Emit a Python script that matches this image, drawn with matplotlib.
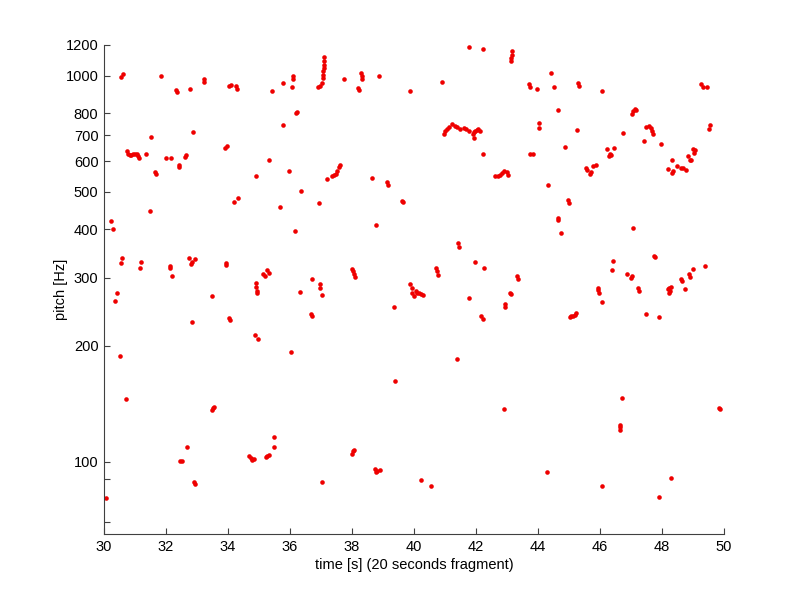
import matplotlib
matplotlib.use("Agg")
import matplotlib.pyplot as plt
from matplotlib.ticker import NullLocator

plt.rcParams['font.family'] = ['Liberation Sans', 'DejaVu Sans']

# pitch track (time in s, pitch in Hz)
time_s = [
    # 30 - 37 s, upper band
    30.56, 30.60, 31.83, 32.31, 32.35, 32.79, 33.22, 33.24, 34.02, 34.11, 34.27, 34.28,
    35.43, 35.76, 36.08, 36.09, 36.10, 36.19, 36.21, 35.79, 32.88, 31.50,
    30.73, 30.77, 30.83, 30.88, 30.93, 31.00, 31.06, 31.09, 31.13,
    31.36, 32.00, 32.17, 32.41, 32.43, 32.60, 32.65, 31.66, 31.68, 31.49, 30.23, 30.29,
    33.91, 33.97, 34.20, 34.31, 34.90, 35.33, 35.97, 35.68, 36.35, 36.16,
    # 30 - 37 s, lower band
    30.59, 30.55, 31.18, 31.15, 32.13, 32.13, 32.18, 32.73, 32.81, 32.84, 32.92, 33.94, 33.94,
    30.42, 30.34, 33.49, 34.90, 34.90, 34.95, 34.95, 35.14, 35.20, 35.27, 35.33, 36.32,
    32.83, 34.04, 34.07, 34.87, 34.98, 36.03, 30.51, 30.70, 33.49, 33.53, 33.56,
    35.49, 35.49, 32.68, 32.46, 32.50, 34.68, 34.74, 34.79, 34.85, 35.22, 35.27, 35.31,
    32.89, 32.92, 30.05,
    # 37 - 43 s
    37.10, 37.10, 37.09, 37.09, 37.08, 37.07, 37.06, 37.04, 36.96, 36.90,
    37.75, 38.28, 38.31, 38.33, 38.20, 38.24, 38.87, 39.88, 40.90, 41.78, 42.24,
    40.96, 40.99, 41.06, 41.14, 41.22, 41.31, 41.38, 41.49, 41.60, 41.67, 41.76,
    41.89, 41.92, 41.97, 42.03, 42.08, 42.13, 41.95, 42.21,
    42.62, 42.72, 42.78, 42.85, 42.91, 42.99, 43.02,
    37.60, 37.58, 37.52, 37.47, 37.42, 37.36, 37.20, 38.63, 39.14, 39.16, 39.61, 39.64,
    36.94, 38.76, 41.41, 41.46, 41.97, 42.25, 36.72, 36.97, 36.97, 37.02,
    38.00, 38.03, 38.06, 38.09, 40.71, 40.74, 40.79,
    36.67, 36.70, 39.36, 39.88, 39.92, 39.94, 39.99, 40.05, 40.10, 40.15, 40.21, 40.28,
    41.76, 42.17, 42.21, 42.94, 42.94, 41.40, 39.38, 42.91,
    38.00, 38.04, 38.07, 38.74, 38.78, 38.81, 38.90, 37.02, 40.24, 40.54,
    # 43 - 50 s
    43.15, 43.17, 43.13, 43.12, 44.41, 43.72, 43.74, 43.98, 44.51, 45.30, 45.32, 46.05,
    49.26, 49.31, 49.45, 44.65, 44.03, 44.02, 45.26, 46.74, 47.03, 47.06, 47.12, 47.16,
    47.42, 47.49, 47.57, 47.63, 47.68, 47.71, 47.97, 49.53, 49.56,
    48.99, 49.07, 49.03, 48.84, 48.89, 48.92,
    48.33, 48.19, 48.32, 48.49, 48.60, 48.68, 48.78, 48.35,
    46.21, 46.45, 46.31, 46.28, 46.35,
    45.54, 45.59, 45.76, 45.86, 45.70, 45.67,
    44.86, 43.74, 43.83, 44.33, 44.97, 44.99, 44.64, 44.66, 44.73, 47.06,
    47.74, 47.76, 46.42, 46.40, 46.86, 47.01, 47.03, 43.31, 43.34, 48.60, 48.64,
    48.87, 48.89, 49.00, 49.38,
    43.10, 43.13, 45.03, 45.08, 45.13, 45.19, 45.24, 45.92, 45.94, 45.97, 46.08,
    47.23, 47.25, 47.49, 47.91, 48.19, 48.22, 48.25, 48.30, 48.22, 48.73,
    46.71, 46.64, 46.65, 46.65, 49.85, 49.88, 44.30, 46.07, 47.90, 48.28,
]

pitch_hz = [
    990, 1010, 1000, 920, 908, 925, 980, 960, 937, 947, 942, 925,
    914, 958, 936, 980, 1000, 800, 805, 746, 716, 692,
    636, 627, 622, 622, 625, 625, 627, 620, 612,
    627, 612, 612, 588, 579, 614, 622, 563, 556, 445, 419, 400,
    649, 657, 471, 482, 550, 605, 566, 456, 502, 397,
    336, 327, 330, 317, 321, 317, 303, 336, 325, 329, 334, 328, 323,
    273, 261, 269, 290, 284, 276, 273, 306, 303, 313, 309, 275,
    230, 236, 233, 213, 208, 192, 188, 145, 136, 138, 139,
    116, 109.5, 109.5, 100.7, 100.7, 103.7, 102.3, 101.1, 101.5, 103.1, 103.7, 104.3,
    88.5, 87.7, 80.7,
    1120, 1092, 1067, 1045, 1025, 1005, 985, 956, 941, 936,
    982, 1015, 995, 981, 930, 920, 995, 914, 962, 1185, 1173,
    706, 717, 729, 735, 749, 739, 735, 729, 732, 729, 720,
    704, 714, 720, 725, 729, 720, 690, 627,
    549, 549, 554, 560, 565, 563, 552,
    588, 579, 566, 556, 552, 549, 540, 543, 530, 522, 473, 470,
    467, 411, 369, 360, 330, 317, 298, 289, 282, 270,
    315, 311, 306, 301, 318, 311, 304,
    241, 238, 252, 288, 282, 274, 269, 276, 273, 274, 272, 271,
    265, 239, 234, 256, 251, 185, 162, 137,
    104.8, 106.4, 107.5, 95.8, 93.9, 94.8, 95.3, 88.5, 89.8, 86.6,
    1155, 1132, 1110, 1092, 1015, 951, 932, 923, 932, 956, 940, 910,
    951, 932, 932, 814, 754, 732, 723, 710, 795, 811, 821, 816,
    679, 735, 739, 732, 720, 706, 665, 729, 746,
    647, 643, 631, 618, 603, 606,
    603, 573, 560, 582, 577, 575, 571, 566,
    647, 651, 626, 618, 622,
    575, 571, 582, 588, 563, 556,
    655, 627, 628, 520, 475, 468, 427, 422, 391, 403,
    341, 338, 331, 314, 306, 299, 303, 303, 297, 297, 294,
    306, 301, 316, 322,
    274, 272, 237, 239, 239, 240, 243, 282, 278, 274, 259,
    282, 277, 242, 237, 280, 274, 277, 283, 282, 280,
    146, 124.5, 122.7, 120.9, 138, 137, 93.9, 86.3, 80.9, 90.6,
]

ytick_vals = [70, 90, 100, 200, 300, 400, 500, 600, 700, 800, 1000, 1200]
ytick_labels = ['', '', '100', '200', '300', '400', '500', '600', '700', '800', '1000', '1200']
xtick_vals = list(range(30, 51, 2))

fig = plt.figure(figsize=(8, 6), dpi=100)
ax = fig.add_axes([0.13, 0.11, 0.775, 0.815])

ax.plot(time_s, pitch_hz, 'o', color='#ee0000', markersize=3.3, markeredgewidth=0)

ax.set_yscale('log')
ax.set_xlim(30, 50)
ax.set_ylim(65, 1200)
ax.set_xticks(xtick_vals)
ax.set_yticks(ytick_vals)
ax.set_yticklabels(ytick_labels)
ax.yaxis.set_minor_locator(NullLocator())

for side in ('top', 'right'):
    ax.spines[side].set_visible(False)
for side in ('left', 'bottom'):
    ax.spines[side].set_color('#404040')
    ax.spines[side].set_linewidth(0.8)
ax.tick_params(direction='in', length=4, width=0.8, color='#404040',
               labelsize=10.5, labelcolor='black', pad=4)

ax.set_xlabel('time [s] (20 seconds fragment)', fontsize=10.5, labelpad=3)
ax.set_ylabel('pitch [Hz]', fontsize=10.5, labelpad=-2)

fig.savefig('out.png', dpi=100)
